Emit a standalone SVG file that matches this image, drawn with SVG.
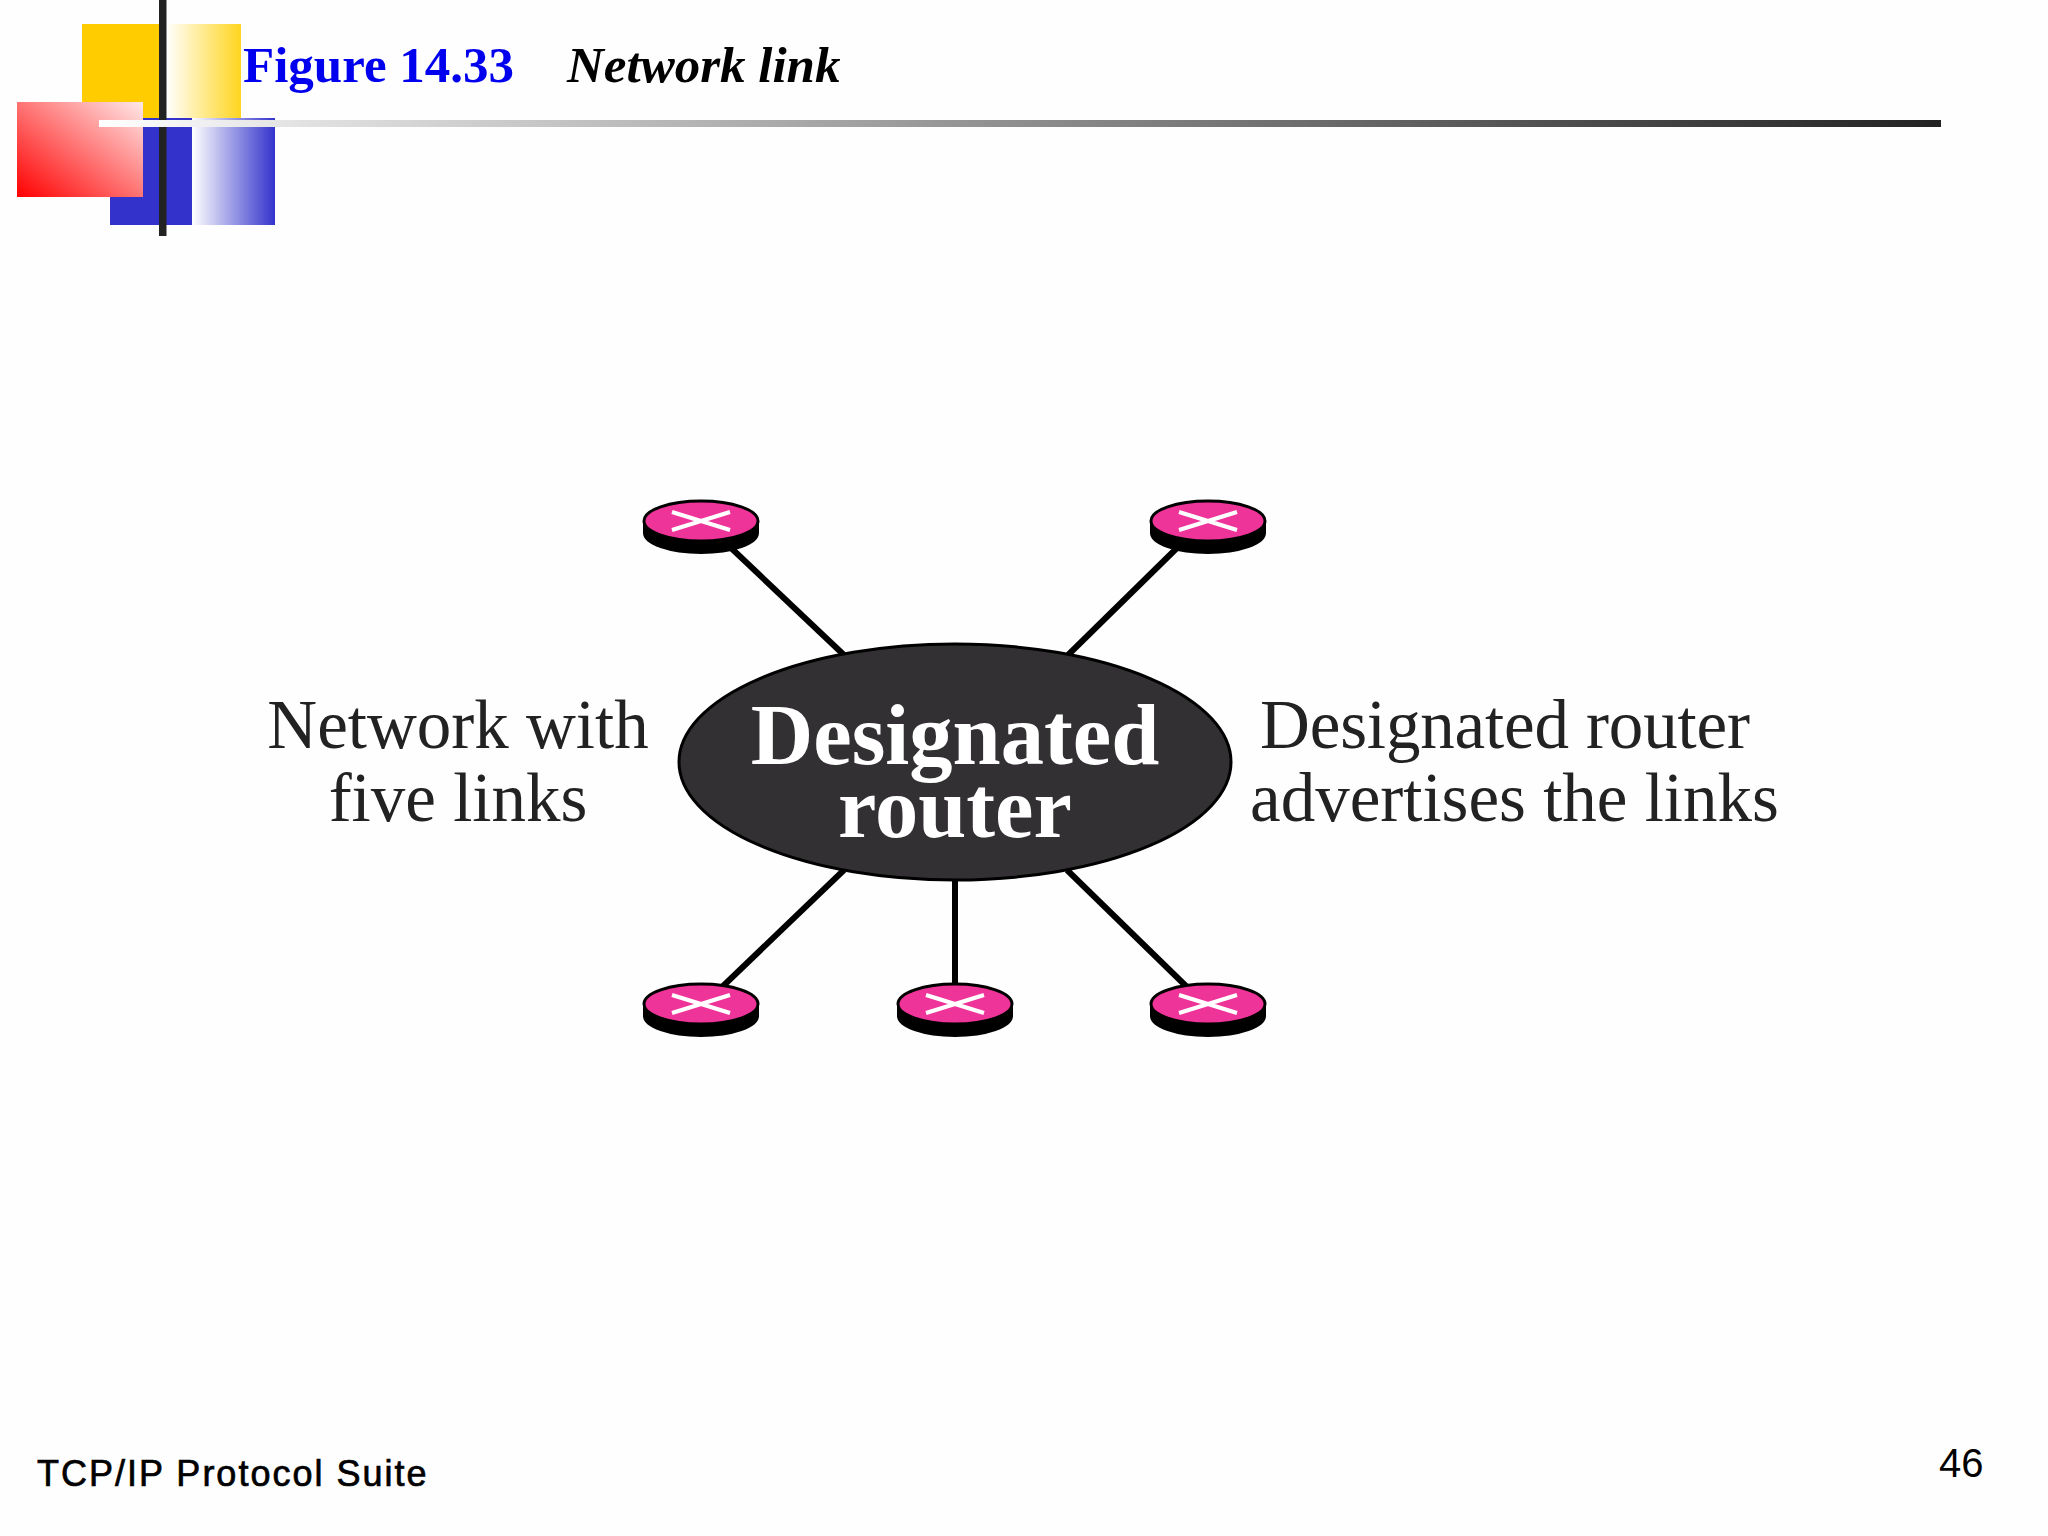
<svg xmlns="http://www.w3.org/2000/svg" width="2048" height="1536" viewBox="0 0 2048 1536">
<style>
.lbl{font-family:"Liberation Serif",serif;font-size:69px;fill:#222}
.dr{font-family:"Liberation Serif",serif;font-size:86.500px;font-weight:bold;fill:#fff;text-anchor:middle}
.link{stroke:#000;stroke-width:6;fill:none}
.base{fill:#000;stroke:#000;stroke-width:2}
.top{fill:#ee3399;stroke:#000;stroke-width:3}
.x{stroke:#fff;stroke-width:4;fill:none}
</style>
<defs>
<linearGradient id="gy" x1="0" x2="1" y1="0" y2="0"><stop offset="0" stop-color="#fff"/><stop offset="1" stop-color="#ffd51f"/></linearGradient>
<linearGradient id="gb" x1="0" x2="1" y1="0" y2="0"><stop offset="0" stop-color="#fff"/><stop offset="1" stop-color="#3333cc"/></linearGradient>
<linearGradient id="gr" x1="0" x2="1" y1="1" y2="0"><stop offset="0" stop-color="#ff0000"/><stop offset="1" stop-color="#ffe8e8"/></linearGradient>
<linearGradient id="gl" x1="0" x2="1" y1="0" y2="0"><stop offset="0" stop-color="#fff"/><stop offset="0.1" stop-color="#e4e4e4"/><stop offset="1" stop-color="#222"/></linearGradient>
<g id="router">
<ellipse class="base" cx="0" cy="12" rx="57" ry="20"/>
<rect x="-58" y="0" width="116" height="12" fill="#000"/>
<ellipse class="top" cx="0" cy="0" rx="57" ry="20"/>
<path class="x" d="M-29-9L29 9M-29 9L29-9"/>
</g>
</defs>
<rect width="2048" height="1536" fill="#fefefe"/>
<g id="decor">
<rect x="82" y="24" width="80" height="94" fill="#ffcc00"/>
<rect x="166" y="24" width="75" height="94" fill="url(#gy)"/>
<rect x="110" y="118" width="82" height="107" fill="#3333cc"/>
<rect x="192" y="118" width="83" height="107" fill="url(#gb)"/>
<rect x="17" y="102" width="126" height="95" fill="url(#gr)"/>
<rect x="159" y="0" width="7.500" height="236" fill="#222"/>
<rect x="99" y="120" width="1842" height="7" fill="url(#gl)"/>
</g>
<text x="243" y="82" font-family="Liberation Serif,serif" font-size="51" font-weight="bold" fill="#0000ee">Figure 14.33</text>
<text x="567" y="82" font-family="Liberation Serif,serif" font-size="51" font-weight="bold" font-style="italic" fill="#000">Network link</text>
<g id="connectors">
<line class="link" x1="729" y1="546" x2="844" y2="655"/>
<line class="link" x1="1179" y1="546" x2="1068" y2="655"/>
<line class="link" x1="721" y1="988" x2="844" y2="870"/>
<line class="link" x1="955" y1="987" x2="955" y2="880"/>
<line class="link" x1="1188" y1="988" x2="1067" y2="870"/>
</g>
<g id="designated-router">
<ellipse cx="955" cy="762" rx="276" ry="118" fill="#333033" stroke="#000" stroke-width="3"/>
<text class="dr" x="955" y="764">Designated</text>
<text class="dr" x="955" y="837">router</text>
</g>
<g id="router-1"><use href="#router" x="701" y="521"/></g>
<g id="router-2"><use href="#router" x="1208" y="521"/></g>
<g id="router-3"><use href="#router" x="701" y="1004"/></g>
<g id="router-4"><use href="#router" x="955" y="1004"/></g>
<g id="router-5"><use href="#router" x="1208" y="1004"/></g>
<g id="left-label">
<text class="lbl" x="458" y="748" text-anchor="middle">Network with</text>
<text class="lbl" x="458" y="821" text-anchor="middle">five links</text>
</g>
<g id="right-label">
<text class="lbl" x="1260" y="748" letter-spacing="-0.150">Designated router</text>
<text class="lbl" x="1250" y="821">advertises the links</text>
</g>
<text x="37" y="1486" font-family="Liberation Sans,sans-serif" font-size="36" letter-spacing="2" stroke="#000" stroke-width="0.700" fill="#000">TCP/IP Protocol Suite</text>
<text x="1939" y="1477" font-family="Liberation Sans,sans-serif" font-size="40" fill="#000">46</text>
</svg>
